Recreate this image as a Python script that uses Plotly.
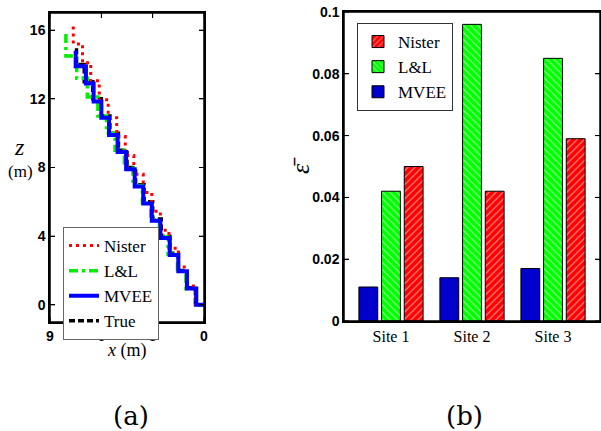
import plotly.graph_objects as go

# ---------------- Data: panel (a) staircase trajectories (x, z in metres) ----------------
true_x = [0.0, 0.5, 1.0, 1.5, 2.0, 2.5, 3.0, 3.5, 4.0, 4.5, 5.0, 5.5, 6.0, 6.5, 7.0, 7.45]
true_z = [0.0, 1.0, 2.0, 3.0, 4.0, 5.0, 6.0, 7.0, 8.0, 9.0, 10.0, 11.0, 12.0, 13.0, 14.0, 15.0]

mvee_x = [0.0, 0.45, 1.0, 1.5, 2.0, 2.55, 3.05, 3.55, 4.05, 4.55, 5.05, 5.55, 6.0, 6.45, 6.9, 7.5]
mvee_z = [0.0, 0.95, 1.95, 2.9, 3.9, 4.9, 5.9, 6.9, 7.9, 8.9, 9.9, 10.9, 11.85, 12.9, 13.9, 14.8]

nister_x = [0.0, 0.5, 1.0, 1.5, 2.05, 2.55, 3.05, 3.55, 4.1, 4.6, 5.1, 5.6, 6.12, 6.62, 7.1, 7.64]
nister_z = [0.0, 1.1, 2.2, 3.3, 4.35, 5.45, 6.55, 7.6, 8.7, 9.8, 10.9, 11.95, 13.05, 14.1, 15.2, 16.3]

ll_x = [0.0, 0.5, 1.05, 1.55, 2.1, 2.6, 3.1, 3.6, 4.15, 4.65, 5.2, 5.7, 6.2, 6.82, 7.44, 8.07]
ll_z = [0.0, 0.95, 1.95, 2.95, 3.95, 4.95, 5.95, 6.95, 7.95, 9.0, 10.0, 11.0, 12.1, 13.2, 14.5, 15.8]

x_ticks = [9, 6, 3, 0]
z_ticks = [0, 4, 8, 12, 16]

# ---------------- Data: panel (b) mean error per site ----------------
sites = ["Site 1", "Site 2", "Site 3"]
mvee_err = [0.011, 0.014, 0.017]
ll_err = [0.042, 0.096, 0.085]
nister_err = [0.050, 0.042, 0.059]
err_ticks = [0, 0.02, 0.04, 0.06, 0.08, 0.1]
err_tick_labels = ["0", "0.02", "0.04", "0.06", "0.08", "0.1"]

W, H = 601, 431
def px(x):
    return x / W
def py(y):
    return 1 - y / H

serif = "Liberation Serif"
sans = "Liberation Sans"

fig = go.Figure()

fig.add_trace(go.Scatter(x=true_x, y=true_z, mode="lines", name="True", line_shape="hv",
                         line=dict(color="black", width=3.5, dash="6px,3px"),
                         xaxis="x", yaxis="y", legend="legend", legendrank=4))
fig.add_trace(go.Scatter(x=ll_x, y=ll_z, mode="lines", name="L&amp;L", line_shape="hv",
                         line=dict(color="#00ee00", width=3.5, dash="9px,4px,3px,4px"),
                         xaxis="x", yaxis="y", legend="legend", legendrank=2))
fig.add_trace(go.Scatter(x=nister_x, y=nister_z, mode="lines", name="Nister", line_shape="hv",
                         line=dict(color="#ff0000", width=3, dash="3px,4px"),
                         xaxis="x", yaxis="y", legend="legend", legendrank=1))
fig.add_trace(go.Scatter(x=mvee_x, y=mvee_z, mode="lines", name="MVEE", line_shape="hv",
                         line=dict(color="#0000ff", width=4),
                         xaxis="x", yaxis="y", legend="legend", legendrank=3))

fig.add_trace(go.Bar(x=sites, y=mvee_err, name="MVEE",
                     marker=dict(color="#0000cc", line=dict(color="black", width=1)),
                     xaxis="x2", yaxis="y2", legend="legend2", legendrank=3))
fig.add_trace(go.Bar(x=sites, y=ll_err, name="L&amp;L",
                     marker=dict(color="#00ff00", line=dict(color="black", width=1),
                                 pattern=dict(shape="\\", fgcolor="white", size=5,
                                              solidity=0.25, fillmode="overlay")),
                     xaxis="x2", yaxis="y2", legend="legend2", legendrank=2))
fig.add_trace(go.Bar(x=sites, y=nister_err, name="Nister",
                     marker=dict(color="#ff0000", line=dict(color="black", width=1),
                                 pattern=dict(shape="/", fgcolor="white", size=5,
                                              solidity=0.25, fillmode="overlay")),
                     xaxis="x2", yaxis="y2", legend="legend2", legendrank=1))

tickfont = dict(family=sans, size=14, color="black", weight="bold")

axline = dict(showline=True, linecolor="black", linewidth=1.5, mirror="ticks",
              ticks="inside", ticklen=5, tickcolor="black", tickwidth=1,
              showgrid=False, zeroline=False, automargin=False)

fig.update_layout(
    width=W, height=H,
    margin=dict(l=0, r=0, t=0, b=0, pad=0, autoexpand=False),
    paper_bgcolor="white", plot_bgcolor="white",
    barmode="group", bargap=0.16, bargroupgap=0.17,
    hovermode=False,
    xaxis=dict(domain=[px(50), px(204)], range=[9, 0], tickvals=x_ticks,
               tickfont=tickfont, anchor="y", **axline),
    yaxis=dict(domain=[py(322), py(13)], range=[-1, 17], tickvals=z_ticks,
               tickfont=tickfont, anchor="x", **axline),
    xaxis2=dict(domain=[px(344), px(600)], range=[-0.58, 2.58], anchor="y2",
                tickfont=dict(family=serif, size=16, color="black"),
                showline=True, linecolor="black", linewidth=1.5, mirror=True,
                ticks="", showgrid=False, zeroline=False, automargin=False),
    yaxis2=dict(domain=[py(321), py(12)], range=[0, 0.1], anchor="x2",
                tickvals=err_ticks, ticktext=err_tick_labels,
                tickfont=tickfont, **axline),
    legend=dict(x=px(63), y=py(227), xanchor="left", yanchor="top",
                bgcolor="white", bordercolor="#666666", borderwidth=1,
                font=dict(family=serif, size=17, color="black"),
                traceorder="normal", tracegroupgap=0),
    legend2=dict(x=px(357), y=py(23), xanchor="left", yanchor="top",
                 bgcolor="white", bordercolor="#333333", borderwidth=1,
                 font=dict(family=serif, size=17, color="black"),
                 traceorder="normal", tracegroupgap=0),
    showlegend=True,
)

# axis frames and inside ticks, placed through the axes' own scales
frame = dict(color="black", width=1.5)
tick = dict(color="black", width=1)
shapes = []
for xr, yr in (("x", "y"), ("x2", "y2")):
    shapes.append(dict(type="rect", xref=xr + " domain", yref=yr + " domain",
                       x0=0, x1=1, y0=0, y1=1, line=frame, fillcolor="rgba(0,0,0,0)", layer="above"))
for t in x_ticks:
    for anc, d in ((0, 5), (1, -5)):
        shapes.append(dict(type="line", xref="x", x0=t, x1=t, yref="y domain",
                           ysizemode="pixel", yanchor=anc, y0=0, y1=d, line=tick, layer="above"))
for yr, xr, vals in (("y", "x", z_ticks), ("y2", "x2", err_ticks)):
    for t in vals:
        for anc, d in ((0, 5), (1, -5)):
            shapes.append(dict(type="line", yref=yr, y0=t, y1=t, xref=xr + " domain",
                               xsizemode="pixel", xanchor=anc, x0=0, x1=d, line=tick, layer="above"))
fig.update_layout(shapes=shapes)

annots = [
    dict(x=px(19), y=py(147), text="<i>z</i>", font=dict(family=serif, size=24, color="black")),
    dict(x=px(21), y=py(172), text="(m)", font=dict(family=serif, size=17, color="black")),
    dict(x=px(127), y=py(350), text="<i>x</i> (m)", font=dict(family=serif, size=18, color="black")),
    dict(x=px(131), y=py(416), text="(a)", font=dict(family="DejaVu Serif", size=26, color="black")),
    dict(x=px(464), y=py(416), text="(b)", font=dict(family="DejaVu Serif", size=26, color="black")),
    dict(x=px(301), y=py(166), text="<i>ε̄</i>", textangle=-90,
         font=dict(family=serif, size=26, color="black")),
]
for a in annots:
    a.update(xref="paper", yref="paper", showarrow=False, xanchor="center", yanchor="middle")
fig.update_layout(annotations=annots)

# remove the default 8px page margin so the figure sits at the window origin
post = "document.body.style.margin='0';"
fig.write_html("out.html", post_script=post, config={"displayModeBar": False})
